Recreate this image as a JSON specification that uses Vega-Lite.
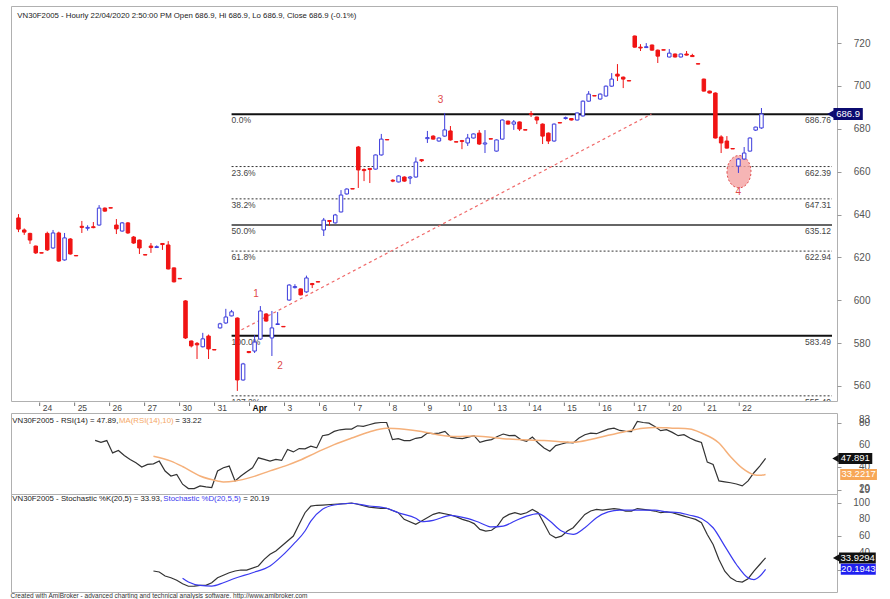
{
  "$schema": "https://vega.github.io/schema/vega-lite/v6.json",
  "background": "white",
  "padding": {"left": 10, "top": 5, "right": 0, "bottom": 0},
  "autosize": {"type": "pad"},
  "bounds": "flush",
  "spacing": 0,
  "config": {"font": "Liberation Sans", "view": {"stroke": "#b0b0b0", "strokeWidth": 1}, "axis": {"labelOverlap": false}},
  "title": {"text": "Created with AmiBroker - advanced charting and technical analysis software. http://www.amibroker.com", "orient": "bottom", "anchor": "start", "fontSize": 6.5, "fontWeight": "normal", "color": "#333", "offset": 0, "font": "Liberation Sans"},
  "datasets": {
    "candles": [
      {"i":0,"o":638.4,"h":640.2,"l":631.8,"c":633.2},{"i":1,"o":632.8,"h":633.5,"l":630.5,"c":631.8},{"i":2,"o":631.2,"h":631.5,"l":626.3,"c":628.1},{"i":3,"o":625.3,"h":625.5,"l":621.6,"c":622.1},{"i":4,"o":622.2,"h":622.2,"l":622.0,"c":622.0},
      {"i":5,"o":631.2,"h":632.0,"l":623.0,"c":623.5},{"i":6,"o":624.4,"h":632.8,"l":624.0,"c":631.4},{"i":7,"o":631.4,"h":632.0,"l":618.0,"c":618.3},{"i":8,"o":618.8,"h":631.4,"l":618.5,"c":629.1},{"i":9,"o":628.6,"h":629.0,"l":621.3,"c":621.6},{"i":10,"o":620.9,"h":620.9,"l":620.7,"c":620.7},
      {"i":11,"o":634.5,"h":637.0,"l":631.4,"c":634.0},{"i":12,"o":633.6,"h":635.0,"l":632.5,"c":634.0},{"i":13,"o":634.3,"h":636.5,"l":633.6,"c":633.9},{"i":14,"o":635.1,"h":644.4,"l":634.8,"c":643.0},{"i":15,"o":643.0,"h":643.3,"l":641.3,"c":641.6},{"i":16,"o":643.2,"h":643.2,"l":643.0,"c":643.0},
      {"i":17,"o":635.1,"h":637.9,"l":630.9,"c":633.3},{"i":18,"o":632.3,"h":636.5,"l":632.0,"c":636.1},{"i":19,"o":636.1,"h":636.5,"l":631.0,"c":631.4},{"i":20,"o":629.5,"h":630.0,"l":626.3,"c":626.7},{"i":21,"o":628.1,"h":628.3,"l":621.6,"c":624.4},{"i":22,"o":621.3,"h":621.3,"l":621.1,"c":621.1},
      {"i":23,"o":625.3,"h":626.7,"l":622.1,"c":624.6},{"i":24,"o":624.6,"h":625.6,"l":624.4,"c":625.0},{"i":25,"o":626.5,"h":626.7,"l":623.5,"c":626.0},{"i":26,"o":625.8,"h":627.6,"l":614.4,"c":614.6},{"i":27,"o":615.1,"h":615.3,"l":608.3,"c":608.6},{"i":28,"o":610.2,"h":610.2,"l":610.0,"c":610.0},
      {"i":29,"o":599.7,"h":600.0,"l":582.0,"c":582.4},{"i":30,"o":581.0,"h":581.2,"l":578.0,"c":578.7},{"i":31,"o":579.9,"h":580.5,"l":572.6,"c":579.2},{"i":32,"o":578.3,"h":584.8,"l":578.0,"c":582.0},{"i":33,"o":583.3,"h":584.0,"l":572.6,"c":577.3},{"i":34,"o":577.0,"h":577.0,"l":576.8,"c":576.8},
      {"i":35,"o":587.1,"h":589.5,"l":586.8,"c":589.0},{"i":36,"o":589.4,"h":596.0,"l":589.0,"c":592.2},{"i":37,"o":592.7,"h":595.5,"l":592.5,"c":594.6},{"i":38,"o":591.7,"h":592.0,"l":557.7,"c":562.8},{"i":39,"o":562.8,"h":570.8,"l":562.5,"c":570.3},{"i":40,"o":576.1,"h":576.3,"l":575.3,"c":575.6},
      {"i":41,"o":576.3,"h":583.8,"l":575.4,"c":580.5},{"i":42,"o":581.9,"h":597.3,"l":581.5,"c":595.0},{"i":43,"o":593.6,"h":594.0,"l":590.0,"c":590.3},{"i":44,"o":582.4,"h":595.0,"l":574.0,"c":587.1},{"i":45,"o":588.7,"h":594.5,"l":588.5,"c":589.0},{"i":46,"o":587.8,"h":587.8,"l":587.6,"c":587.6},
      {"i":47,"o":600.1,"h":607.5,"l":599.8,"c":607.1},{"i":48,"o":605.9,"h":607.5,"l":605.5,"c":606.4},{"i":49,"o":605.3,"h":605.5,"l":602.3,"c":602.5},{"i":50,"o":603.9,"h":611.5,"l":603.5,"c":610.4},{"i":51,"o":607.8,"h":608.1,"l":605.7,"c":607.3},{"i":52,"o":608.7,"h":608.7,"l":608.5,"c":608.5},
      {"i":53,"o":632.8,"h":638.4,"l":630.0,"c":637.4},{"i":54,"o":637.2,"h":637.4,"l":634.8,"c":636.8},{"i":55,"o":636.1,"h":640.3,"l":635.8,"c":639.8},{"i":56,"o":641.2,"h":651.4,"l":641.0,"c":649.1},{"i":57,"o":649.6,"h":652.2,"l":649.3,"c":651.9},{"i":58,"o":652.1,"h":652.1,"l":651.9,"c":651.9},
      {"i":59,"o":671.5,"h":672.0,"l":652.4,"c":660.8},{"i":60,"o":661.0,"h":661.5,"l":655.6,"c":660.5},{"i":61,"o":661.5,"h":661.7,"l":654.7,"c":661.0},{"i":62,"o":661.2,"h":668.0,"l":661.0,"c":667.8},{"i":63,"o":667.8,"h":677.6,"l":667.5,"c":675.2},{"i":64,"o":675.0,"h":675.0,"l":674.8,"c":674.8},
      {"i":65,"o":656.0,"h":656.5,"l":655.1,"c":655.6},{"i":66,"o":655.2,"h":658.3,"l":655.0,"c":658.0},{"i":67,"o":657.5,"h":657.8,"l":655.3,"c":655.6},{"i":68,"o":657.0,"h":658.0,"l":654.2,"c":657.5},{"i":69,"o":657.5,"h":666.7,"l":657.2,"c":664.5},{"i":70,"o":665.6,"h":665.9,"l":664.5,"c":665.1},
      {"i":71,"o":675.4,"h":679.0,"l":673.4,"c":675.9},{"i":72,"o":676.6,"h":677.0,"l":675.0,"c":675.2},{"i":73,"o":674.3,"h":676.0,"l":674.0,"c":675.7},{"i":74,"o":676.6,"h":687.4,"l":676.3,"c":679.5},{"i":75,"o":679.0,"h":681.3,"l":674.5,"c":674.8},{"i":76,"o":674.0,"h":674.0,"l":673.8,"c":673.8},
      {"i":77,"o":674.5,"h":674.8,"l":670.5,"c":674.1},{"i":78,"o":673.4,"h":677.6,"l":672.0,"c":675.7},{"i":79,"o":675.7,"h":677.8,"l":675.5,"c":677.6},{"i":80,"o":678.0,"h":679.4,"l":672.5,"c":672.9},{"i":81,"o":672.9,"h":679.4,"l":668.7,"c":673.4},{"i":82,"o":675.4,"h":675.4,"l":675.2,"c":675.2},
      {"i":83,"o":669.6,"h":675.0,"l":669.4,"c":674.8},{"i":84,"o":675.2,"h":684.4,"l":675.0,"c":684.1},{"i":85,"o":683.6,"h":683.8,"l":682.0,"c":682.2},{"i":86,"o":682.2,"h":684.1,"l":679.5,"c":683.2},{"i":87,"o":683.2,"h":683.4,"l":679.0,"c":679.9},{"i":88,"o":679.6,"h":679.6,"l":679.4,"c":679.4},
      {"i":89,"o":687.1,"h":688.3,"l":685.5,"c":686.7},{"i":90,"o":685.5,"h":685.7,"l":682.2,"c":684.1},{"i":91,"o":682.2,"h":682.5,"l":672.9,"c":676.6},{"i":92,"o":678.0,"h":678.3,"l":672.9,"c":674.3},{"i":93,"o":674.3,"h":682.5,"l":674.0,"c":682.2},{"i":94,"o":682.9,"h":682.9,"l":682.7,"c":682.7},
      {"i":95,"o":684.8,"h":685.7,"l":684.3,"c":685.2},{"i":96,"o":684.8,"h":685.0,"l":683.9,"c":684.1},{"i":97,"o":684.1,"h":687.6,"l":683.9,"c":687.4},{"i":98,"o":686.0,"h":693.2,"l":685.7,"c":692.9},{"i":99,"o":692.9,"h":697.6,"l":692.7,"c":696.2},{"i":100,"o":695.5,"h":695.5,"l":695.3,"c":695.3},
      {"i":101,"o":693.9,"h":696.5,"l":693.6,"c":696.2},{"i":102,"o":695.3,"h":700.2,"l":695.0,"c":699.9},{"i":103,"o":699.9,"h":706.0,"l":699.6,"c":703.2},{"i":104,"o":705.5,"h":710.2,"l":702.3,"c":704.6},{"i":105,"o":704.1,"h":704.4,"l":699.0,"c":703.2},{"i":106,"o":702.5,"h":702.5,"l":702.3,"c":702.3},
      {"i":107,"o":723.3,"h":723.5,"l":717.9,"c":718.1},{"i":108,"o":718.1,"h":719.5,"l":716.3,"c":717.7},{"i":109,"o":717.9,"h":720.0,"l":717.7,"c":718.3},{"i":110,"o":719.1,"h":719.3,"l":716.5,"c":716.7},{"i":111,"o":716.7,"h":717.0,"l":710.7,"c":713.9},{"i":112,"o":716.9,"h":716.9,"l":716.7,"c":716.7},
      {"i":113,"o":713.5,"h":717.2,"l":713.3,"c":715.3},{"i":114,"o":714.9,"h":715.1,"l":713.3,"c":713.5},{"i":115,"o":713.5,"h":715.1,"l":713.3,"c":714.9},{"i":116,"o":714.9,"h":716.3,"l":714.2,"c":714.4},{"i":117,"o":714.2,"h":715.0,"l":713.5,"c":713.7},{"i":118,"o":710.4,"h":710.4,"l":710.2,"c":710.2},
      {"i":119,"o":703.2,"h":703.4,"l":697.4,"c":697.6},{"i":120,"o":697.6,"h":697.8,"l":696.5,"c":696.7},{"i":121,"o":696.7,"h":697.0,"l":675.5,"c":675.7},{"i":122,"o":676.2,"h":677.0,"l":668.7,"c":673.4},{"i":123,"o":674.3,"h":676.6,"l":670.8,"c":671.0},{"i":124,"o":670.8,"h":670.8,"l":670.6,"c":670.6},
      {"i":125,"o":662.6,"h":666.2,"l":659.4,"c":665.9},{"i":126,"o":665.9,"h":671.5,"l":665.6,"c":668.7},{"i":127,"o":669.6,"h":676.0,"l":669.4,"c":675.7},{"i":128,"o":679.4,"h":681.0,"l":679.0,"c":680.8},{"i":129,"o":680.4,"h":689.7,"l":680.0,"c":686.9}
    ],
    "fib": [
      {"pct":0,"label":"0.0%","price":686.76},{"pct":23.6,"label":"23.6%","price":662.39},{"pct":38.2,"label":"38.2%","price":647.31},{"pct":50,"label":"50.0%","price":635.12},{"pct":61.8,"label":"61.8%","price":622.94},{"pct":100,"label":"100.0%","price":583.49},{"pct":127.2,"label":"127.2%","price":555.4}
    ],
    "trend": [{"i":37.8,"price":584.9},{"i":109.9,"price":686.9}],
    "marks": [{"i":41.25,"price":603.0,"label":"1"},{"i":45.4,"price":569.3,"label":"2"},{"i":73.3,"price":693.4,"label":"3"},{"i":124.96,"price":650.5,"label":"4"}],
    "zone": [{"i":125.1,"price":660.0}],
    "days": [
      {"first":5,"label":"24"},{"first":11,"label":"25"},{"first":17,"label":"26"},{"first":23,"label":"27"},{"first":29,"label":"30"},{"first":35,"label":"31"},{"first":41,"label":"Apr"},{"first":47,"label":"3"},{"first":53,"label":"6"},{"first":59,"label":"7"},{"first":65,"label":"8"},{"first":71,"label":"9"},{"first":77,"label":"10"},{"first":83,"label":"13"},{"first":89,"label":"14"},{"first":95,"label":"15"},{"first":101,"label":"16"},{"first":107,"label":"17"},{"first":113,"label":"20"},{"first":119,"label":"21"},{"first":125,"label":"22"}
    ],
    "rsiticks": [{"v":19},{"v":20},{"v":40},{"v":60},{"v":80},{"v":83}],
    "stticks": [{"v":40},{"v":60},{"v":80},{"v":100}],
    "rsi": [
      {"i":14,"v":64.5},{"i":15,"v":62.7},{"i":16,"v":64.3},{"i":17,"v":53.0},{"i":18,"v":55.2},{"i":19,"v":50.6},{"i":20,"v":47.0},{"i":21,"v":43.9},{"i":22,"v":40.0},{"i":23,"v":42.4},{"i":24,"v":43.0},{"i":25,"v":45.5},{"i":26,"v":36.4},{"i":27,"v":31.8},{"i":28,"v":33.3},{"i":29,"v":24.3},{"i":30,"v":20.3},{"i":31,"v":20.3},{"i":32,"v":22.7},{"i":33,"v":21.8},{"i":34,"v":21.2},{"i":35,"v":36.4},{"i":36,"v":39.4},{"i":37,"v":40.9},{"i":38,"v":27.3},{"i":39,"v":31.8},{"i":40,"v":35.7},{"i":41,"v":39.4},{"i":42,"v":48.5},{"i":43,"v":47.0},{"i":44,"v":45.5},{"i":45,"v":47.0},{"i":46,"v":46.1},{"i":47,"v":56.1},{"i":48,"v":53.9},{"i":49,"v":57.0},{"i":50,"v":56.7},{"i":51,"v":59.1},{"i":52,"v":57.6},{"i":53,"v":68.8},{"i":54,"v":69.7},{"i":55,"v":72.7},{"i":56,"v":74.2},{"i":57,"v":74.8},{"i":58,"v":74.8},{"i":59,"v":77.9},{"i":60,"v":77.3},{"i":61,"v":78.8},{"i":62,"v":80.3},{"i":63,"v":80.9},{"i":64,"v":80.9},{"i":65,"v":65.2},{"i":66,"v":66.1},{"i":67,"v":64.3},{"i":68,"v":64.3},{"i":69,"v":66.4},{"i":70,"v":67.3},{"i":71,"v":71.2},{"i":72,"v":70.6},{"i":73,"v":71.2},{"i":74,"v":72.7},{"i":75,"v":67.5},{"i":76,"v":66.6},{"i":77,"v":66.1},{"i":78,"v":67.5},{"i":79,"v":68.8},{"i":80,"v":62.7},{"i":81,"v":64.3},{"i":82,"v":65.2},{"i":83,"v":68.0},{"i":84,"v":70.3},{"i":85,"v":68.8},{"i":86,"v":69.1},{"i":87,"v":65.2},{"i":88,"v":63.6},{"i":89,"v":67.5},{"i":90,"v":62.1},{"i":91,"v":57.5},{"i":92,"v":54.5},{"i":93,"v":59.7},{"i":94,"v":61.2},{"i":95,"v":62.7},{"i":96,"v":62.1},{"i":97,"v":66.6},{"i":98,"v":69.7},{"i":99,"v":71.2},{"i":100,"v":70.6},{"i":101,"v":72.7},{"i":102,"v":74.8},{"i":103,"v":75.7},{"i":104,"v":73.6},{"i":105,"v":72.7},{"i":106,"v":72.5},{"i":107,"v":81.8},{"i":108,"v":80.9},{"i":109,"v":80.3},{"i":110,"v":77.3},{"i":111,"v":73.4},{"i":112,"v":74.3},{"i":113,"v":71.8},{"i":114,"v":68.8},{"i":115,"v":69.7},{"i":116,"v":66.6},{"i":117,"v":64.3},{"i":118,"v":62.5},{"i":119,"v":44.5},{"i":120,"v":42.4},{"i":121,"v":27.3},{"i":122,"v":26.4},{"i":123,"v":25.6},{"i":124,"v":24.5},{"i":125,"v":22.7},{"i":126,"v":27.3},{"i":127,"v":34.8},{"i":128,"v":40.9},{"i":129,"v":47.89}
    ],
    "rsima": [
      {"i":24,"v":50.0},{"i":27,"v":45.5},{"i":29,"v":40.5},{"i":32,"v":31.8},{"i":35,"v":27.3},{"i":36,"v":26.4},{"i":38,"v":27.2},{"i":41,"v":31.0},{"i":44,"v":36.5},{"i":47,"v":41.8},{"i":49,"v":46.0},{"i":52,"v":53.5},{"i":55,"v":60.6},{"i":58,"v":66.6},{"i":61,"v":72.2},{"i":64,"v":75.7},{"i":67,"v":74.8},{"i":70,"v":72.7},{"i":73,"v":69.5},{"i":76,"v":68.0},{"i":79,"v":68.5},{"i":85,"v":65.7},{"i":91,"v":64.3},{"i":96,"v":62.7},{"i":99,"v":65.2},{"i":102,"v":69.1},{"i":105,"v":72.7},{"i":108,"v":75.7},{"i":110,"v":76.4},{"i":113,"v":75.7},{"i":116,"v":75.0},{"i":118,"v":71.2},{"i":121,"v":62.1},{"i":123,"v":49.5},{"i":125,"v":39.0},{"i":127,"v":33.0},{"i":128,"v":32.4},{"i":129,"v":33.22}
    ],
    "stk": [
      {"i":24,"v":18.2},{"i":25,"v":17.0},{"i":26,"v":12.2},{"i":27,"v":10.2},{"i":28,"v":7.1},{"i":29,"v":3.0},{"i":30,"v":0.0},{"i":31,"v":0.2},{"i":32,"v":1.0},{"i":33,"v":1.0},{"i":34,"v":4.2},{"i":35,"v":10.2},{"i":37,"v":16.2},{"i":38,"v":18.2},{"i":39,"v":19.4},{"i":40,"v":19.4},{"i":42,"v":24.2},{"i":43,"v":32.2},{"i":44,"v":38.2},{"i":45,"v":42.2},{"i":46,"v":48.1},{"i":48,"v":60.1},{"i":49,"v":74.1},{"i":50,"v":88.0},{"i":51,"v":96.0},{"i":52,"v":96.9},{"i":53,"v":97.2},{"i":55,"v":98.1},{"i":57,"v":98.8},{"i":58,"v":99.6},{"i":59,"v":98.1},{"i":61,"v":94.8},{"i":63,"v":93.3},{"i":64,"v":93.3},{"i":66,"v":88.0},{"i":67,"v":80.1},{"i":69,"v":74.1},{"i":70,"v":78.1},{"i":72,"v":86.1},{"i":73,"v":88.0},{"i":75,"v":85.3},
      {"i":76,"v":83},{"i":77,"v":80},{"i":78,"v":78},{"i":79,"v":75},{"i":80,"v":68},{"i":81,"v":66},{"i":82,"v":67},{"i":83,"v":72},{"i":84,"v":82},{"i":85,"v":86},{"i":86,"v":88},{"i":87,"v":86},{"i":88,"v":88},{"i":89,"v":92},{"i":90,"v":88},{"i":91,"v":75},{"i":92,"v":62},{"i":93,"v":58},{"i":94,"v":60},{"i":95,"v":66},{"i":96,"v":70},{"i":97,"v":78},{"i":98,"v":86},{"i":99,"v":90},{"i":100,"v":92},{"i":101,"v":91},{"i":102,"v":92},{"i":103,"v":93},{"i":104,"v":92},{"i":105,"v":90},{"i":106,"v":90},{"i":107,"v":93},{"i":108,"v":92},{"i":109,"v":91},{"i":110,"v":90},{"i":111,"v":88},{"i":112,"v":89},{"i":113,"v":88},{"i":114,"v":86},{"i":115,"v":84},{"i":116,"v":82},{"i":117,"v":80},{"i":118,"v":76},{"i":119,"v":62},{"i":120,"v":50},{"i":121,"v":32},{"i":122,"v":18},{"i":123,"v":10},{"i":124,"v":6},{"i":125,"v":5},{"i":126,"v":9},{"i":127,"v":18},{"i":128,"v":26},{"i":129,"v":33.93}
    ],
    "std": [
      {"i":29,"v":9.5},{"i":30,"v":5.0},{"i":32,"v":1.0},{"i":34,"v":0.2},{"i":36,"v":4.2},{"i":38,"v":9.5},{"i":41,"v":16.2},{"i":44,"v":24.2},{"i":46,"v":36.0},{"i":48,"v":50.2},{"i":50,"v":66.1},{"i":51,"v":78.0},{"i":53,"v":92.1},{"i":55,"v":97.2},{"i":58,"v":99.3},{"i":61,"v":96.0},{"i":64,"v":93.3},{"i":66,"v":88.0},{"i":69,"v":81.3},{"i":70,"v":77.2},{"i":72,"v":78.9},{"i":75,"v":84.9},
      {"i":76,"v":84},{"i":78,"v":81},{"i":80,"v":76},{"i":82,"v":71},{"i":84,"v":72},{"i":86,"v":78},{"i":88,"v":84},{"i":90,"v":87},{"i":92,"v":78},{"i":94,"v":66},{"i":96,"v":62},{"i":98,"v":70},{"i":100,"v":82},{"i":102,"v":89},{"i":104,"v":91},{"i":106,"v":91},{"i":108,"v":91},{"i":110,"v":91},{"i":112,"v":89},{"i":114,"v":88},{"i":116,"v":85},{"i":118,"v":81},{"i":120,"v":70},{"i":122,"v":48},{"i":124,"v":26},{"i":126,"v":10},{"i":127,"v":8},{"i":128,"v":12},{"i":129,"v":20.19}
    ]
  },
  "vconcat": [
    {
      "width": 826, "height": 395,
      "layer": [
        {"data": {"name": "fib"}, "transform": [{"filter": "datum.pct == 0 || datum.pct == 100"}],
         "mark": {"type": "rule", "color": "#111111", "strokeWidth": 2},
         "encoding": {
           "x": {"datum": 37, "type": "quantitative", "scale": {"domain": [-0.43, 141.25], "nice": false, "zero": false}, "axis": null},
           "x2": {"datum": 141.25},
           "y": {"field": "price", "type": "quantitative", "scale": {"domain": [553.0, 737.3], "nice": false, "zero": false},
                 "axis": {"orient": "right", "values": [560,580,600,620,640,660,680,700,720], "title": null, "domain": false, "grid": false, "ticks": true, "tickSize": 4, "tickColor": "#999999", "labelColor": "#555555", "labelFontSize": 10, "labelAlign": "right", "labelPadding": 29, "labelFont": "Liberation Sans", "labelOverlap": false}}
         }},
        {"data": {"name": "fib"}, "transform": [{"filter": "datum.pct == 50"}],
         "mark": {"type": "rule", "color": "#333333", "strokeWidth": 1.3},
         "encoding": {"x": {"datum": 37, "type": "quantitative"}, "x2": {"datum": 141.25}, "y": {"field": "price", "type": "quantitative"}}},
        {"data": {"name": "fib"}, "transform": [{"filter": "datum.pct != 0 && datum.pct != 100 && datum.pct != 50"}],
         "mark": {"type": "rule", "color": "#333333", "strokeWidth": 1, "strokeDash": [2, 2]},
         "encoding": {"x": {"datum": 37, "type": "quantitative"}, "x2": {"datum": 141.25}, "y": {"field": "price", "type": "quantitative"}}},
        {"data": {"name": "fib"},
         "mark": {"type": "text", "align": "left", "baseline": "middle", "dy": 6, "fontSize": 8.5, "color": "#444444", "clip": true},
         "encoding": {"x": {"datum": 37, "type": "quantitative"}, "y": {"field": "price", "type": "quantitative"}, "text": {"field": "label"}}},
        {"data": {"name": "fib"},
         "mark": {"type": "text", "align": "right", "baseline": "middle", "dy": 6, "dx": -1, "fontSize": 8.5, "color": "#444444", "clip": true},
         "encoding": {"x": {"datum": 141.25, "type": "quantitative"}, "y": {"field": "price", "type": "quantitative"}, "text": {"field": "price", "type": "quantitative", "format": ".2f"}}},
        {"data": {"name": "trend"},
         "mark": {"type": "line", "color": "#f06a6a", "strokeWidth": 1.2, "strokeDash": [3, 3]},
         "encoding": {"x": {"field": "i", "type": "quantitative"}, "y": {"field": "price", "type": "quantitative"}}},
        {"data": {"name": "zone"},
         "mark": {"type": "point", "shape": "M -1 0 A 1 1.35 0 1 0 1 0 A 1 1.35 0 1 0 -1 0 Z", "size": 576, "filled": true, "fill": "#f4a3a3", "fillOpacity": 0.8, "stroke": "#e05050", "strokeWidth": 1, "strokeDash": [2, 2], "opacity": 1},
         "encoding": {"x": {"field": "i", "type": "quantitative"}, "y": {"field": "price", "type": "quantitative"}}},
        {"data": {"name": "candles"},
         "mark": {"type": "rule", "strokeWidth": 1},
         "encoding": {"x": {"field": "i", "type": "quantitative"}, "y": {"field": "l", "type": "quantitative"}, "y2": {"field": "h"},
                      "color": {"condition": {"test": "datum.c >= datum.o", "value": "#3c3cdc"}, "value": "#f01414"}}},
        {"data": {"name": "candles"},
         "mark": {"type": "bar", "width": 3.5, "strokeWidth": 1},
         "encoding": {"x": {"field": "i", "type": "quantitative"}, "y": {"field": "o", "type": "quantitative"}, "y2": {"field": "c"},
                      "fill": {"condition": {"test": "datum.c >= datum.o", "value": "#ffffff"}, "value": "#f01414"},
                      "stroke": {"condition": {"test": "datum.c >= datum.o", "value": "#3c3cdc"}, "value": "#f01414"}}},
        {"data": {"name": "marks"},
         "mark": {"type": "text", "color": "#e04848", "fontSize": 10, "align": "center", "baseline": "middle"},
         "encoding": {"x": {"field": "i", "type": "quantitative"}, "y": {"field": "price", "type": "quantitative"}, "text": {"field": "label"}}},
        {"data": {"values": [{"t": "VN30F2005 - Hourly 22/04/2020 2:50:00 PM Open 686.9, Hi 686.9, Lo 686.9, Close 686.9 (-0.1%)"}]},
         "mark": {"type": "text", "align": "left", "baseline": "middle", "fontSize": 7.8, "color": "#222222"},
         "encoding": {"x": {"datum": -0.2, "type": "quantitative"}, "y": {"datum": 732.6, "type": "quantitative"}, "text": {"field": "t"}}},
        {"data": {"values": [{"v": 686.9}]},
         "mark": {"type": "rule", "color": "#0b0b70", "strokeWidth": 12},
         "encoding": {"x": {"datum": 141.5, "type": "quantitative"}, "x2": {"datum": 146.6}, "y": {"field": "v", "type": "quantitative"}}},
        {"data": {"values": [{"v": 686.9}]},
         "mark": {"type": "point", "shape": "triangle-left", "filled": true, "color": "#0b0b70", "size": 60, "opacity": 1},
         "encoding": {"x": {"datum": 141.0, "type": "quantitative"}, "y": {"field": "v", "type": "quantitative"}}},
        {"data": {"values": [{"v": 686.9}]},
         "mark": {"type": "text", "color": "#ffffff", "fontSize": 9.5, "align": "center", "baseline": "middle"},
         "encoding": {"x": {"datum": 144.05, "type": "quantitative"}, "y": {"field": "v", "type": "quantitative"}, "text": {"field": "v", "type": "quantitative", "format": ".1f"}}}
      ]
    },
    {
      "width": 826, "height": 12,
      "view": {"stroke": null},
      "data": {"name": "days"},
      "layer": [
        {"mark": {"type": "rule", "color": "#777777", "strokeWidth": 1, "xOffset": -3},
         "encoding": {"x": {"field": "first", "type": "quantitative", "scale": {"domain": [-0.43, 141.25], "nice": false, "zero": false}, "axis": null},
                      "y": {"datum": 1.5, "type": "quantitative", "scale": {"domain": [0, 12], "reverse": true, "nice": false, "zero": false}, "axis": null},
                      "y2": {"datum": 5}}},
        {"transform": [{"filter": "datum.label != 'Apr'"}],
         "mark": {"type": "text", "align": "left", "baseline": "middle", "fontSize": 8.5, "color": "#444444", "dx": 0},
         "encoding": {"x": {"field": "first", "type": "quantitative", "axis": null}, "y": {"datum": 6.5, "type": "quantitative", "axis": null}, "text": {"field": "label"}}},
        {"transform": [{"filter": "datum.label == 'Apr'"}],
         "mark": {"type": "text", "align": "left", "baseline": "middle", "fontSize": 8.5, "fontWeight": "bold", "color": "#111111", "dx": 0},
         "encoding": {"x": {"field": "first", "type": "quantitative", "axis": null}, "y": {"datum": 6.5, "type": "quantitative", "axis": null}, "text": {"field": "label"}}}
      ]
    },
    {
      "width": 826, "height": 81,
      "layer": [
        {"data": {"name": "rsi"},
         "mark": {"type": "line", "color": "#333333", "strokeWidth": 1.2},
         "encoding": {"x": {"field": "i", "type": "quantitative", "scale": {"domain": [-0.43, 141.25], "nice": false, "zero": false}, "axis": null},
                      "y": {"field": "v", "type": "quantitative", "scale": {"domain": [15.3, 89.6], "nice": false, "zero": false},
                            "axis": {"orient": "right", "values": [19, 20, 40, 60, 80, 83], "title": null, "domain": false, "grid": false, "labels": false, "tickSize": 4, "tickColor": "#999999"}}}},
        {"data": {"name": "rsima"},
         "mark": {"type": "line", "color": "#f5b07a", "strokeWidth": 1.5, "interpolate": "monotone"},
         "encoding": {"x": {"field": "i", "type": "quantitative"}, "y": {"field": "v", "type": "quantitative"}}},
        {"data": {"name": "rsiticks"},
         "mark": {"type": "text", "align": "right", "baseline": "middle", "fontSize": 10, "color": "#555555", "dx": 33},
         "encoding": {"x": {"datum": 141.25, "type": "quantitative"}, "y": {"field": "v", "type": "quantitative"}, "text": {"field": "v", "type": "quantitative", "format": "d"}}},
        {"data": {"values": [{"t": "VN30F2005 - RSI(14) = 47.89, "}]},
         "mark": {"type": "text", "align": "left", "baseline": "middle", "fontSize": 7.8, "color": "#222222"},
         "encoding": {"x": {"datum": -0.2, "type": "quantitative"}, "y": {"datum": 82.3, "type": "quantitative"}, "text": {"field": "t"}}},
        {"data": {"values": [{"t": "MA(RSI(14),10)"}]},
         "mark": {"type": "text", "align": "left", "baseline": "middle", "fontSize": 7.8, "color": "#f5a866"},
         "encoding": {"x": {"datum": 18.1, "type": "quantitative"}, "y": {"datum": 82.3, "type": "quantitative"}, "text": {"field": "t"}}},
        {"data": {"values": [{"t": "= 33.22"}]},
         "mark": {"type": "text", "align": "left", "baseline": "middle", "fontSize": 7.8, "color": "#222222"},
         "encoding": {"x": {"datum": 27.75, "type": "quantitative"}, "y": {"datum": 82.3, "type": "quantitative"}, "text": {"field": "t"}}},
        {"data": {"values": [{"v": 47.89}]},
         "mark": {"type": "rule", "color": "#111111", "strokeWidth": 11},
         "encoding": {"x": {"datum": 141.5, "type": "quantitative"}, "x2": {"datum": 147.3}, "y": {"field": "v", "type": "quantitative"}}},
        {"data": {"values": [{"v": 47.89}]},
         "mark": {"type": "point", "shape": "triangle-left", "filled": true, "color": "#111111", "size": 55, "opacity": 1},
         "encoding": {"x": {"datum": 141.0, "type": "quantitative"}, "y": {"field": "v", "type": "quantitative"}}},
        {"data": {"values": [{"t": "47.891", "v": 47.89}]},
         "mark": {"type": "text", "color": "#ffffff", "fontSize": 9.5, "align": "center", "baseline": "middle"},
         "encoding": {"x": {"datum": 144.4, "type": "quantitative"}, "y": {"field": "v", "type": "quantitative"}, "text": {"field": "t"}}},
        {"data": {"values": [{"v": 33.22}]},
         "mark": {"type": "rule", "color": "#f7a757", "strokeWidth": 11},
         "encoding": {"x": {"datum": 141.8, "type": "quantitative"}, "x2": {"datum": 148.1}, "y": {"field": "v", "type": "quantitative"}}},
        {"data": {"values": [{"t": "33.2217", "v": 33.22}]},
         "mark": {"type": "text", "color": "#ffffff", "fontSize": 9.5, "align": "center", "baseline": "middle"},
         "encoding": {"x": {"datum": 144.95, "type": "quantitative"}, "y": {"field": "v", "type": "quantitative"}, "text": {"field": "t"}}}
      ]
    },
    {
      "width": 826, "height": 98,
      "layer": [
        {"data": {"name": "stk"},
         "mark": {"type": "line", "color": "#333333", "strokeWidth": 1.2},
         "encoding": {"x": {"field": "i", "type": "quantitative", "scale": {"domain": [-0.43, 141.25], "nice": false, "zero": false}, "axis": null},
                      "y": {"field": "v", "type": "quantitative", "scale": {"domain": [-6.9, 110.4], "nice": false, "zero": false},
                            "axis": {"orient": "right", "values": [20, 40, 60, 80, 100], "title": null, "domain": false, "grid": false, "labels": false, "tickSize": 4, "tickColor": "#999999"}}}},
        {"data": {"name": "std"},
         "mark": {"type": "line", "color": "#3a3af0", "strokeWidth": 1.2, "interpolate": "monotone"},
         "encoding": {"x": {"field": "i", "type": "quantitative"}, "y": {"field": "v", "type": "quantitative"}}},
        {"data": {"name": "stticks"},
         "mark": {"type": "text", "align": "right", "baseline": "middle", "fontSize": 10, "color": "#555555", "dx": 33},
         "encoding": {"x": {"datum": 141.25, "type": "quantitative"}, "y": {"field": "v", "type": "quantitative"}, "text": {"field": "v", "type": "quantitative", "format": "d"}}},
        {"data": {"values": [{"t": "VN30F2005 - Stochastic %K(20,5) = 33.93, "}]},
         "mark": {"type": "text", "align": "left", "baseline": "middle", "fontSize": 7.8, "color": "#222222"},
         "encoding": {"x": {"datum": -0.2, "type": "quantitative"}, "y": {"datum": 104.4, "type": "quantitative"}, "text": {"field": "t"}}},
        {"data": {"values": [{"t": "Stochastic %D(20,5,5)"}]},
         "mark": {"type": "text", "align": "left", "baseline": "middle", "fontSize": 7.8, "color": "#3a3af0"},
         "encoding": {"x": {"datum": 25.7, "type": "quantitative"}, "y": {"datum": 104.4, "type": "quantitative"}, "text": {"field": "t"}}},
        {"data": {"values": [{"t": "= 20.19"}]},
         "mark": {"type": "text", "align": "left", "baseline": "middle", "fontSize": 7.8, "color": "#222222"},
         "encoding": {"x": {"datum": 39.4, "type": "quantitative"}, "y": {"datum": 104.4, "type": "quantitative"}, "text": {"field": "t"}}},
        {"data": {"values": [{"v": 33.93}]},
         "mark": {"type": "rule", "color": "#111111", "strokeWidth": 11},
         "encoding": {"x": {"datum": 141.6, "type": "quantitative"}, "x2": {"datum": 147.9}, "y": {"field": "v", "type": "quantitative"}}},
        {"data": {"values": [{"v": 33.93}]},
         "mark": {"type": "point", "shape": "triangle-left", "filled": true, "color": "#111111", "size": 55, "opacity": 1},
         "encoding": {"x": {"datum": 141.1, "type": "quantitative"}, "y": {"field": "v", "type": "quantitative"}}},
        {"data": {"values": [{"t": "33.9294", "v": 33.93}]},
         "mark": {"type": "text", "color": "#ffffff", "fontSize": 9.5, "align": "center", "baseline": "middle"},
         "encoding": {"x": {"datum": 144.8, "type": "quantitative"}, "y": {"field": "v", "type": "quantitative"}, "text": {"field": "t"}}},
        {"data": {"values": [{"v": 20.19}]},
         "mark": {"type": "rule", "color": "#2020f0", "strokeWidth": 11},
         "encoding": {"x": {"datum": 141.9, "type": "quantitative"}, "x2": {"datum": 147.9}, "y": {"field": "v", "type": "quantitative"}}},
        {"data": {"values": [{"t": "20.1943", "v": 20.19}]},
         "mark": {"type": "text", "color": "#ffffff", "fontSize": 9.5, "align": "center", "baseline": "middle"},
         "encoding": {"x": {"datum": 144.9, "type": "quantitative"}, "y": {"field": "v", "type": "quantitative"}, "text": {"field": "t"}}}
      ]
    }
  ]
}
